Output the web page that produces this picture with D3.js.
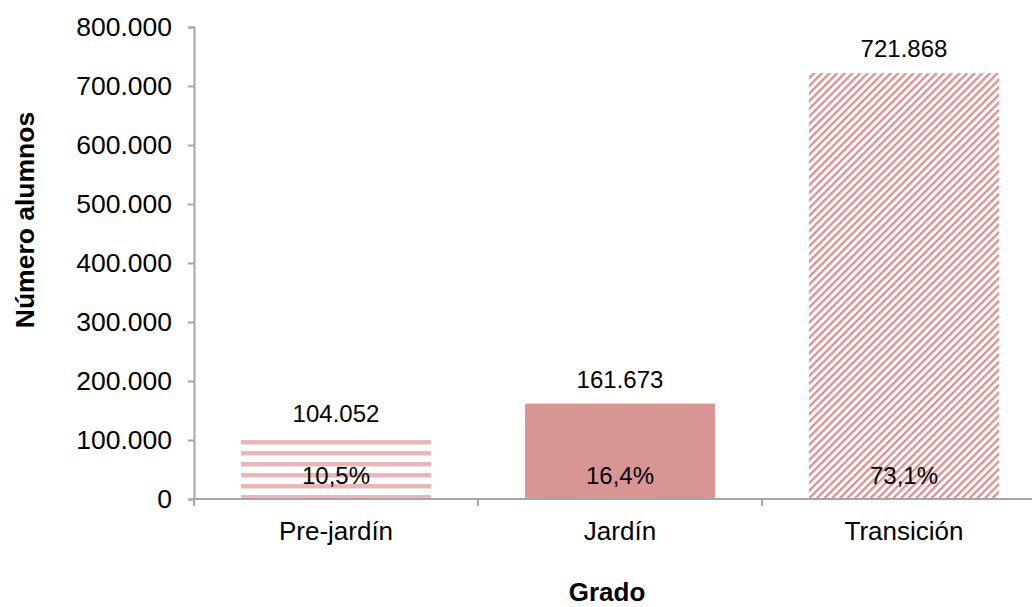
<!DOCTYPE html>
<html><head><meta charset="utf-8">
<script src="https://cdn.jsdelivr.net/npm/d3@7"></script>
<style>body{margin:0;background:#fff}svg{display:block}text{font-family:"Liberation Sans",Arial,sans-serif;fill:#000}</style>
</head><body><svg id="c" width="1032" height="607"></svg>
<script>
const categories = ["Pre-jardín", "Jardín", "Transición"];
const values = [104052, 161673, 721868];
const valueLabels = ["104.052", "161.673", "721.868"];
const percentLabels = ["10,5%", "16,4%", "73,1%"];
const yTicks = [0, 100000, 200000, 300000, 400000, 500000, 600000, 700000, 800000];
const yTickLabels = ["0", "100.000", "200.000", "300.000", "400.000", "500.000", "600.000", "700.000", "800.000"];
const fills = ["url(#hstripe)", "#d99594", "url(#dstripe)"];

const svg = d3.select("#c");
const defs = svg.append("defs");
const hp = defs.append("pattern").attr("id","hstripe").attr("patternUnits","userSpaceOnUse").attr("width",11).attr("height",11);
hp.append("rect").attr("width",11).attr("height",11).attr("fill","#fff");
hp.append("rect").attr("y",0).attr("width",11).attr("height",4.5).attr("fill","#e8b7b7");
const dp = defs.append("pattern").attr("id","dstripe").attr("patternUnits","userSpaceOnUse").attr("width",5.4).attr("height",10).attr("patternTransform","rotate(45)");
dp.append("rect").attr("width",5.4).attr("height",10).attr("fill","#fff");
dp.append("rect").attr("x",0).attr("width",2.3).attr("height",10).attr("fill","#dc8e8e");

const mLeft = 194, mBottom = 499, mTop = 27;
const x = d3.scaleBand().domain(categories).range([mLeft, mLeft + 3*284]).padding(0);
const y = d3.scaleLinear().domain([0, 800000]).range([mBottom, mTop]);
const barW = 190;

svg.selectAll(".bar").data(categories).join("rect")
  .attr("x", d => x(d) + x.bandwidth()/2 - barW/2)
  .attr("y", (d,i) => y(values[i]))
  .attr("width", barW)
  .attr("height", (d,i) => y(0) - y(values[i]))
  .attr("fill", (d,i) => fills[i]);

const axisColor = "#a6a6a6";
const ya = svg.append("g").attr("transform", `translate(${mLeft},0)`)
  .call(d3.axisLeft(y).tickValues(yTicks).tickFormat((d,i)=>yTickLabels[i]).tickSize(6).tickPadding(16));
ya.select(".domain").attr("stroke", axisColor).attr("stroke-width", 2);
ya.selectAll(".tick line").attr("stroke", axisColor).attr("stroke-width", 2);
ya.selectAll(".tick text").attr("font-size", 26.5).attr("font-family","Liberation Sans, Arial, sans-serif").attr("fill","#000");

const xa = svg.append("g").attr("transform", `translate(0,${mBottom})`);
xa.append("line").attr("x1", mLeft).attr("x2", 1032).attr("y1",0).attr("y2",0).attr("stroke",axisColor).attr("stroke-width",2);
const bounds = categories.map(c => x(c)).concat([x(categories[2]) + x.bandwidth()]);
xa.selectAll(".xt").data(bounds).join("line").attr("x1",d=>d).attr("x2",d=>d).attr("y1",0).attr("y2",7).attr("stroke",axisColor).attr("stroke-width",2);
xa.selectAll(".xl").data(categories).join("text")
  .attr("x", d => x(d) + x.bandwidth()/2).attr("y", 41).attr("text-anchor","middle").attr("font-size",26).text(d=>d);

svg.selectAll(".vl").data(categories).join("text")
  .attr("x", d => x(d) + x.bandwidth()/2).attr("y", (d,i) => y(values[i]) - 16)
  .attr("text-anchor","middle").attr("font-size",24).text((d,i)=>valueLabels[i]);
svg.selectAll(".pl").data(categories).join("text")
  .attr("x", d => x(d) + x.bandwidth()/2).attr("y", mBottom - 15)
  .attr("text-anchor","middle").attr("font-size",24).text((d,i)=>percentLabels[i]);

svg.append("text").attr("x",607).attr("y",601).attr("text-anchor","middle").attr("font-size",26).attr("font-weight","bold").text("Grado");
svg.append("text").attr("transform","translate(34,220) rotate(-90)").attr("text-anchor","middle").attr("font-size",26.5).attr("font-weight","bold").text("Número alumnos");
</script></body></html>
